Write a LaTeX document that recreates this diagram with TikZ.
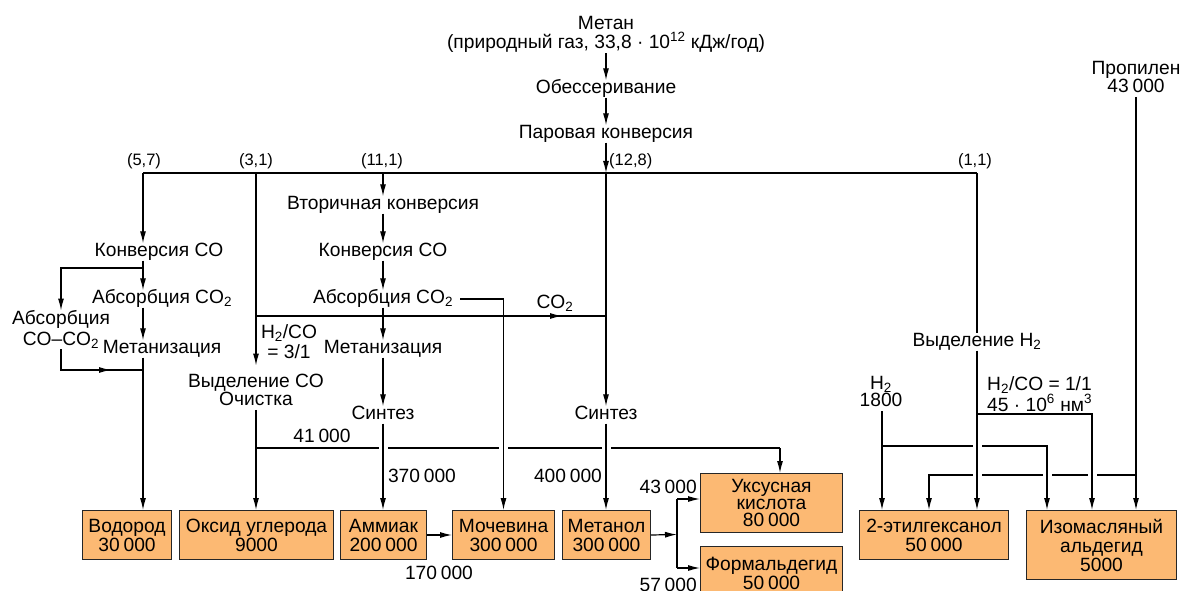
\documentclass[tikz,border=0pt]{standalone}
\usepackage{fontspec}
\setmainfont{Liberation Sans}
\usetikzlibrary{arrows.meta,calc}
\definecolor{boxfill}{RGB}{252,185,115}
\newcommand\lf{\fontsize{19.2}{19}\selectfont}
\newcommand\cf{\fontsize{16.5}{17}\selectfont}
\newcommand\nsp{\hspace{0.2em}}
\newcommand\lstrutH{\rule{0pt}{13pt}}
\newcommand\lstrutD{\rule[-4pt]{0pt}{4pt}}
\tikzset{
  ln/.style={line width=1.2pt, draw=black},
  arr/.style={ln, -{Latex[length=12pt,width=6pt]}},
  lbl/.style={inner sep=0pt, font=\lf, text height=13pt, text depth=4pt, anchor=base},
  lblm/.style={inner sep=0pt, align=center, anchor=north},
  coord/.style={inner sep=0pt, font=\cf, anchor=base},
  num/.style={inner sep=0pt, font=\lf, anchor=base},
  gapst/.style={draw=white, line width=3.5pt},
  box/.style={draw=black!85, line width=1pt, fill=boxfill, inner sep=0pt, align=center, anchor=north west, font=\lf},
}
\begin{document}
\begin{tikzpicture}[x=1pt,y=-1pt]
\useasboundingbox (0,0) rectangle (1181,591);
\clip (0,0) rectangle (1181,591);
\fill[white] (0,0) rectangle (1181,591);

% ---------- top chain
\node[lblm, font={\fontsize{19.2}{19.5}\selectfont}] (metan) at (606,16) {\lstrutH Метан\\(природный газ, 33,8 · 10\textsuperscript{12} кДж/год)\lstrutD};
\node[lbl] (obess) at (606,93.5) {Обессеривание};
\node[lbl] (parov) at (606,138.5) {Паровая конверсия};

% coordinates on main line
\coordinate (j57) at (143,173);
\coordinate (j31) at (256,173);
\coordinate (j111) at (383,173);
\coordinate (j128) at (606,173);
\coordinate (j11) at (977,173);

\node[coord] (l57) at (144,166) {(5,7)};
\node[coord] (l31) at (256,166) {(3,1)};
\node[coord] (l111) at (382,166) {(11,1)};
\node[coord, anchor=base west] (l128) at (609,166) {(12,8)};
\node[coord] (l11) at (975,166) {(1,1)};

% ---------- left column
\node[lbl] (konv1) at (159,256.5) {Конверсия CO};
\node[lbl] (abs1) at (162,303.5) {Абсорбция CO\textsubscript{2}};
\node[lbl] (metaniz1) at (162,353.5) {Метанизация};
\node[lblm, font={\fontsize{19.2}{20.5}\selectfont}] (abs2) at (61,310.5) {\lstrutH Абсорбция\\CO–CO\textsubscript{2}\lstrutD};

% ---------- column 256
\node[lblm, font={\fontsize{19.2}{18.5}\selectfont}] (vydCO) at (256,373.5) {\lstrutH Выделение CO\\Очистка\lstrutD};
\node[lblm, font={\fontsize{19.2}{20}\selectfont}] (h2co1) at (289,324.5) {\lstrutH H\textsubscript{2}/CO\\= 3/1\lstrutD};
\node[lbl] (co2) at (555,308.5) {CO\textsubscript{2}};

% ---------- column 383
\node[lbl] (vtor) at (383,209.5) {Вторичная конверсия};
\node[lbl] (konv2) at (383,256.5) {Конверсия CO};
\node[lbl] (abs3) at (383,303.5) {Абсорбция CO\textsubscript{2}};
\node[lbl] (metaniz2) at (383,353.5) {Метанизация};
\node[lbl] (syn1) at (383,419.5) {Синтез};
\node[lbl] (syn2) at (606,419.5) {Синтез};

% ---------- right side
\node[lbl] (vydH2) at (977,346.5) {Выделение H\textsubscript{2}};
\node[lblm, font={\fontsize{19.2}{17.5}\selectfont}] (h2b) at (881,376) {\lstrutH H\textsubscript{2}\\1800\lstrutD};
\node[lblm, anchor=north west, align=left, font={\fontsize{19.2}{17.5}\selectfont}] (h2co2) at (987,376) {\lstrutH H\textsubscript{2}/CO = 1/1\\45 · 10\textsuperscript{6} нм\textsuperscript{3}\lstrutD};
\node[lblm, font={\fontsize{19.2}{17}\selectfont}] (propylen) at (1136,61) {\lstrutH Пропилен\\43\nsp000\lstrutD};

% ---------- numbers
\node[num] (n41) at (322,442.5) {41\nsp000};
\node[num] (n370) at (422,482.5) {370\nsp000};
\node[num] (n400) at (568,482.5) {400\nsp000};
\node[num] (n170) at (439,579.5) {170\nsp000};
\node[num, anchor=base east] (n43) at (697,493.5) {43\nsp000};
\node[num, anchor=base east] (n57) at (697,591.5) {57\nsp000};

% ---------- product boxes
\node[box, minimum width=89pt, minimum height=49pt] (vodorod) at (82,510) {Водород\\30\nsp000};
\node[box, minimum width=154pt, minimum height=49pt] (oksid) at (179,510) {Оксид углерода\\9000};
\node[box, minimum width=86pt, minimum height=49pt] (ammiak) at (340,510) {Аммиак\\200\nsp000};
\node[box, minimum width=102pt, minimum height=49pt] (mochevina) at (452,510) {Мочевина\\300\nsp000};
\node[box, minimum width=88pt, minimum height=49pt] (metanol) at (562,510) {Метанол\\300\nsp000};
\node[box, minimum width=142pt, minimum height=59pt, font={\fontsize{19.2}{17}\selectfont}] (uksus) at (700,473) {Уксусная\\кислота\\80\nsp000};
\node[box, minimum width=142pt, minimum height=54pt] (formald) at (700,546) {Формальдегид\\50\nsp000};
\node[box, minimum width=149pt, minimum height=49pt] (etil) at (859,510) {2-этилгексанол\\50\nsp000};
\node[box, minimum width=150pt, minimum height=69pt] (izomasl) at (1026,510) {Изомасляный\\альдегид\\5000};

% ---------- connectors: top
\draw[arr] (metan.south) -- (obess.north);
\draw[arr] (obess.south) -- (parov.north);
\draw[arr] (parov.south) -- (j128);
\draw[ln] (j57) -- (j11);

% left column
\coordinate (b1) at (143,268);
\coordinate (b2) at (143,370);
\coordinate (b2a) at (111,370);
\draw[arr] (j57) -- (j57 |- konv1.north);
\draw[arr] (j57 |- konv1.south) -- (j57 |- abs1.north);
\draw[arr] (b1) -| (abs2.north);
\draw[arr] (j57 |- abs1.south) -- (j57 |- metaniz1.north);
\draw[ln] (abs2.south) |- (b2);
\draw[arr] (abs2.south) |- (b2a);
\draw[arr] (j57 |- metaniz1.south) -- (j57 |- vodorod.north);

% column 256 and CO2 line
\coordinate (c1) at (256,316);
\coordinate (c1tip) at (562,316);
\coordinate (c2) at (606,316);
\draw[arr] (j31) -- ([yshift=8pt]vydCO.north);
\draw[ln] (c1) -- (c2);
\draw[arr] (c1) -- (c1tip);
\draw[arr] (vydCO.south) -- (vydCO.south |- oksid.north);

% 41 000 line to acetic acid
\coordinate (j41) at (256,448);
\coordinate (u41) at (780,448);
\draw[ln] (j41) -- (u41);
\draw[arr] (u41) -- (u41 |- uksus.north);
\foreach \x in {383,503,606} \draw[gapst] (\x-4.5,448) -- (\x+4.5,448);

% column 383
\draw[arr] (j111) -- (vtor.north);
\draw[arr] (vtor.south) -- (konv2.north);
\draw[arr] (konv2.south) -- (abs3.north);
\draw[arr] (abs3.south) -- (metaniz2.north);
\draw[arr] (metaniz2.south) -- (syn1.north);
\draw[arr] (syn1.south) -- (syn1.south |- ammiak.north);
\draw[arr] ([xshift=7pt]abs3.east) -| (mochevina.north);

% column 606
\draw[arr] (j128) -- (syn2.north);
\draw[arr] (syn2.south) -- (syn2.south |- metanol.north);

% bottom links
\draw[arr] (ammiak.east) -- (mochevina.west);
\coordinate (spl) at (677,534.5);
\coordinate (splU) at (677,499);
\coordinate (splF) at (677,568);
\draw[arr] (metanol.east) -- (spl);
\draw[ln] (splU) -- (splF);
\draw[arr] (splU) -- (splU -| uksus.west);
\draw[arr] (splF) -- (splF -| formald.west);

% ---------- right side connectors
\coordinate (r1) at (977,414);
\coordinate (r1e) at (1092,414);
\coordinate (r2) at (882,446);
\coordinate (r2e) at (1047,446);
\coordinate (r3) at (1136,475);
\coordinate (r3e) at (929,475);
\draw[ln] (j11) -- (vydH2.north);
\draw[arr] (r3 |- propylen.south) -- (r3 |- izomasl.north);
\draw[arr] (r3) -- (r3e) -- (r3e |- etil.north);
\foreach \x in {977,1047,1092} \draw[gapst] (\x-4.5,475) -- (\x+4.5,475);
\draw[arr] (r2) -- (r2e) -- (r2e |- izomasl.north);
\draw[arr] (r1) -- (r1e) -- (r1e |- izomasl.north);
\draw[gapst] (972.5,446) -- (981.5,446);
\draw[arr] (j11 |- vydH2.south) -- (j11 |- etil.north);
\draw[arr] (r2 |- h2b.south) -- (r2 |- etil.north);
\end{tikzpicture}
\end{document}
